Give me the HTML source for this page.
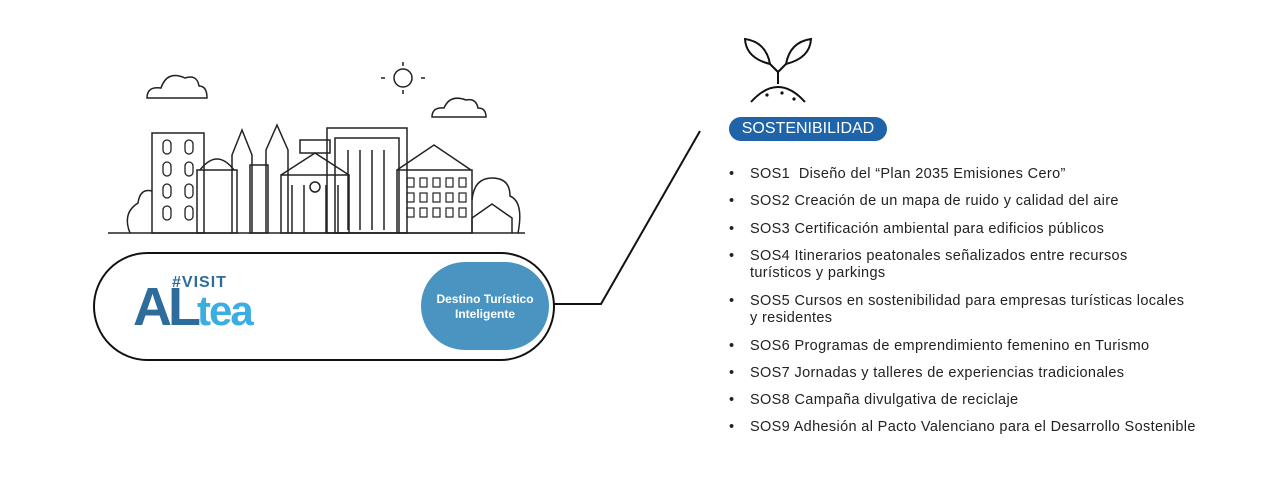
<!DOCTYPE html>
<html><head><meta charset="utf-8"><style>
body{margin:0;width:1270px;height:478px;background:#fff;position:relative;overflow:hidden;font-family:"Liberation Sans",sans-serif}
.li{position:absolute;left:735px;font-size:14.5px;letter-spacing:0.35px;color:#222;line-height:17px}
.li span{position:absolute;left:-6px;}
.li b{font-weight:normal;display:block;padding-left:15px}
</style></head><body>
<svg width="1270" height="478" style="position:absolute;left:0;top:0" fill="none" stroke="#222" stroke-width="1.5">
<path d="M147 98 q0-12 14-10 q6-18 24-10 q12-4 14 8 q8 0 8 12 z"/>
<path d="M432 117 q0-10 12-9 q6-14 22-8 q10-2 12 8 q8 0 8 9 z"/>
<circle cx="403" cy="78" r="9"/><path d="M403 62v4M403 90v4M385 78h-4M421 78h4"/>
<path d="M108 233 H525"/>
<path d="M130 233 q-8-20 8-30 q2-15 14-12"/><path d="M472 200 q2-22 20-22 q18 0 18 18 q14 6 8 37"/>
<rect x="152" y="133" width="52" height="100"/>
<g stroke-width="1.3"><rect x="163" y="140" width="8" height="14" rx="4"/><rect x="185" y="140" width="8" height="14" rx="4"/><rect x="163" y="162" width="8" height="14" rx="4"/><rect x="185" y="162" width="8" height="14" rx="4"/><rect x="163" y="184" width="8" height="14" rx="4"/><rect x="185" y="184" width="8" height="14" rx="4"/><rect x="163" y="206" width="8" height="14" rx="4"/><rect x="185" y="206" width="8" height="14" rx="4"/></g>
<rect x="197" y="170" width="40" height="63"/><path d="M200 170 q17-22 34 0"/>
<path d="M232 233 V155 l10-25 l10 25 V233"/><path d="M266 233 V150 l11-25 l11 25 V233"/>
<rect x="250" y="165" width="18" height="68"/>
<rect x="281" y="175" width="68" height="58"/><path d="M281 175 l34-22 l34 22"/><rect x="300" y="140" width="30" height="13"/><circle cx="315" cy="187" r="5"/>
<path d="M292 185v48M304 185v48M326 185v48M338 185v48"/>
<rect x="327" y="128" width="80" height="105"/><rect x="335" y="138" width="64" height="95"/>
<path d="M348 150v80M360 150v80M372 150v80M384 150v80"/>
<rect x="397" y="170" width="75" height="63"/><path d="M397 170 l37-25 l37 25"/>
<g stroke-width="1.2"><rect x="407" y="178" width="7" height="9"/><rect x="420" y="178" width="7" height="9"/><rect x="433" y="178" width="7" height="9"/><rect x="446" y="178" width="7" height="9"/><rect x="459" y="178" width="7" height="9"/><rect x="407" y="193" width="7" height="9"/><rect x="420" y="193" width="7" height="9"/><rect x="433" y="193" width="7" height="9"/><rect x="446" y="193" width="7" height="9"/><rect x="459" y="193" width="7" height="9"/><rect x="407" y="208" width="7" height="9"/><rect x="420" y="208" width="7" height="9"/><rect x="433" y="208" width="7" height="9"/><rect x="446" y="208" width="7" height="9"/><rect x="459" y="208" width="7" height="9"/></g>
<path d="M472 233 V218 l20-14 l20 14 V233"/>
<rect x="94" y="253" width="460" height="107" rx="53.5" stroke="#111" stroke-width="2"/>
<path d="M554 304 H601 L700 131" stroke="#111" stroke-width="2"/>
<g stroke="#111" stroke-width="2">
<path d="M778 84 V72"/>
<path d="M778 72 L770 64 M778 72 L786 64"/>
<path d="M770 64 Q746 58 745 39 Q766 42 770 64 Z"/>
<path d="M786 64 Q810 58 811 39 Q790 42 786 64 Z"/>
<path d="M751 102 Q778 72 805 102"/>
</g>
<g fill="#111" stroke="none"><circle cx="767" cy="95" r="1.6"/><circle cx="782" cy="93" r="1.6"/><circle cx="794" cy="99" r="1.6"/></g>
</svg>
<div style="position:absolute;left:421px;top:262px;width:128px;height:88px;border-radius:44px;background:#4a94c2;color:#fff;font-weight:bold;font-size:12px;text-align:center;line-height:15px;box-sizing:border-box;padding-top:30px">Destino Turístico<br>Inteligente</div>
<div style="position:absolute;left:172px;top:274px;font-weight:bold;color:#2e6c9c;font-size:16px;letter-spacing:1px">#VISIT</div>
<div style="position:absolute;left:133px;top:282px;font-weight:bold;font-size:54px;line-height:50px;color:#2e6c9c;letter-spacing:-4px">AL<span style="color:#3aaee0;font-size:42px;letter-spacing:-2px">tea</span></div>
<div style="position:absolute;left:729px;top:117px;width:158px;height:24px;border-radius:12px;background:#1f64a8;color:#fff;font-size:16px;line-height:24px;text-align:center">SOSTENIBILIDAD</div>
<div class="li" style="top:166px"><span>•</span><b>SOS1&nbsp; Diseño del “Plan 2035 Emisiones Cero”</b></div>
<div class="li" style="top:193px"><span>•</span><b>SOS2 Creación de un mapa de ruido y calidad del aire</b></div>
<div class="li" style="top:221px"><span>•</span><b>SOS3 Certificación ambiental para edificios públicos</b></div>
<div class="li" style="top:248px"><span>•</span><b>SOS4 Itinerarios peatonales señalizados entre recursos<br>turísticos y parkings</b></div>
<div class="li" style="top:293px"><span>•</span><b>SOS5 Cursos en sostenibilidad para empresas turísticas locales<br>y residentes</b></div>
<div class="li" style="top:338px"><span>•</span><b>SOS6 Programas de emprendimiento femenino en Turismo</b></div>
<div class="li" style="top:365px"><span>•</span><b>SOS7 Jornadas y talleres de experiencias tradicionales</b></div>
<div class="li" style="top:392px"><span>•</span><b>SOS8 Campaña divulgativa de reciclaje</b></div>
<div class="li" style="top:419px"><span>•</span><b>SOS9 Adhesión al Pacto Valenciano para el Desarrollo Sostenible</b></div>
</body></html>
